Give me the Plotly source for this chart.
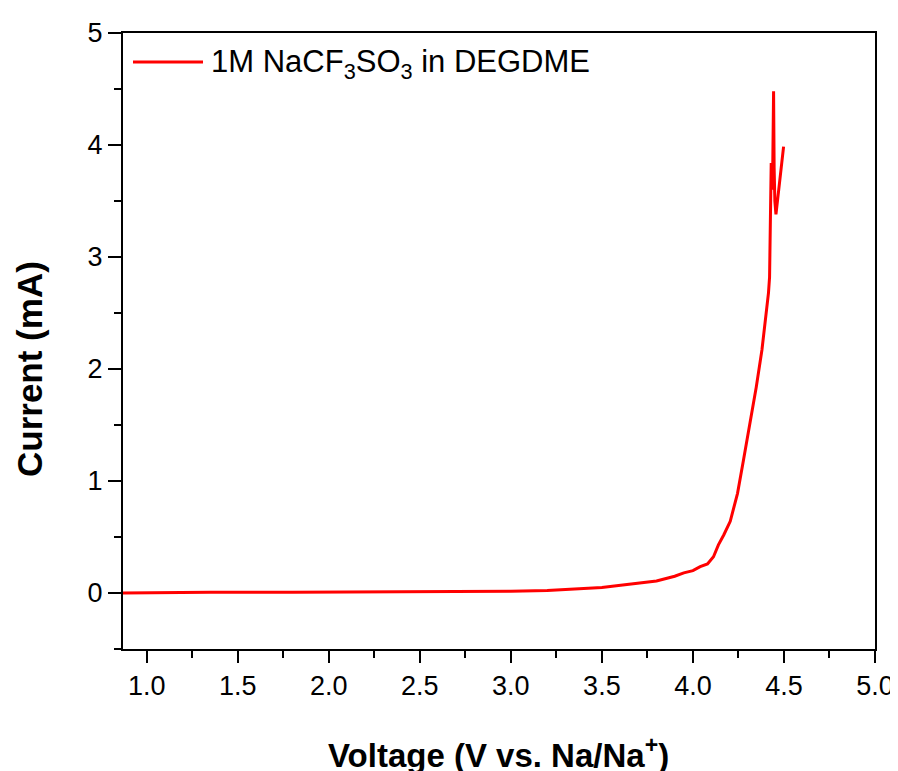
import plotly.graph_objects as go

# Data (LSV curve)
voltage = [0.87, 1.0, 1.3, 1.35, 1.8, 2.3, 2.8, 3.0, 3.2, 3.36, 3.5, 3.58, 3.7, 3.8,
           3.9, 3.95, 4.0, 4.04, 4.08, 4.113, 4.14, 4.17, 4.205, 4.245, 4.278, 4.315,
           4.348, 4.379, 4.4, 4.415, 4.421, 4.425, 4.43, 4.437, 4.44, 4.443, 4.446,
           4.45, 4.456, 4.47, 4.485, 4.498]
current = [0.0, 0.0, 0.002, 0.006, 0.007, 0.008, 0.01, 0.015, 0.022, 0.036, 0.05, 0.065,
           0.085, 0.107, 0.15, 0.18, 0.2, 0.235, 0.26, 0.324, 0.43, 0.52, 0.64, 0.89,
           1.19, 1.515, 1.84, 2.17, 2.45, 2.68, 2.82, 3.3, 3.84, 3.6, 4.1, 4.48, 3.8,
           3.5, 3.38, 3.6, 3.8, 3.985]

series_name = "1M NaCF<sub>3</sub>SO<sub>3</sub> in DEGDME"
x_tick_vals = [1.0, 1.5, 2.0, 2.5, 3.0, 3.5, 4.0, 4.5, 5.0]
x_tick_text = ["1.0", "1.5", "2.0", "2.5", "3.0", "3.5", "4.0", "4.5", "5.0"]
y_tick_vals = [0, 1, 2, 3, 4, 5]
y_tick_text = ["0", "1", "2", "3", "4", "5"]

FONT = "Liberation Sans, Arial, sans-serif"
RED = "#ff0000"

fig = go.Figure()
fig.add_trace(go.Scatter(x=voltage, y=current, mode="lines",
                         line=dict(color=RED, width=3), name=series_name,
                         showlegend=False))

# page body has an 8px margin; compensate so page coordinates match the reference
OFF = 8
W, H = 898 - OFF, 771 - OFF
L, T = 123 - OFF, 33 - OFF
R = W - (875 - OFF)
B = H - (649 - OFF)
pw, ph = W - L - R, H - T - B

def px(xp):  # page pixel -> paper
    return (xp - OFF - L) / pw

def py(yp):
    return (H - B - (yp - OFF)) / ph

fig.update_layout(
    width=W, height=H,
    margin=dict(l=L, r=R, t=T, b=B, autoexpand=False),
    paper_bgcolor="white", plot_bgcolor="white",
    font=dict(family=FONT, color="black"),
    xaxis=dict(range=[0.87, 5.0], tickvals=x_tick_vals, ticktext=x_tick_text,
               automargin=False,
               ticks="outside", ticklen=12, tickwidth=2, tickcolor="black",
               showline=True, linecolor="black", linewidth=2, mirror=True,
               showgrid=False, zeroline=False,
               tickfont=dict(size=27, family=FONT),
               minor=dict(ticks="outside", ticklen=7, tickwidth=2, tickcolor="black",
                          dtick=0.25, tick0=1.0, showgrid=False)),
    yaxis=dict(range=[-0.5, 5.0], tickvals=y_tick_vals, ticktext=y_tick_text,
               automargin=False,
               ticks="outside", ticklen=13, tickwidth=2, tickcolor="black",
               showline=True, linecolor="black", linewidth=2, mirror=True,
               showgrid=False, zeroline=False,
               tickfont=dict(size=27, family=FONT),
               minor=dict(ticks="outside", ticklen=7, tickwidth=2, tickcolor="black",
                          dtick=0.5, tick0=0, showgrid=False)),
)

# Legend sample line and text
fig.add_shape(type="line", xref="paper", yref="paper",
              x0=px(133), x1=px(203), y0=py(62), y1=py(62),
              line=dict(color=RED, width=3))
fig.add_annotation(xref="paper", yref="paper", x=px(209), y=py(64),
                   xanchor="left", yanchor="middle", showarrow=False,
                   text=series_name, font=dict(size=31, family=FONT, color="black"))

# Axis titles
fig.add_annotation(xref="paper", yref="paper", x=px(498), y=py(753),
                   xanchor="center", yanchor="middle", showarrow=False,
                   text="<b>Voltage (V vs. Na/Na<sup>+</sup>)</b>",
                   font=dict(size=33, family=FONT, color="black"))
fig.add_annotation(xref="paper", yref="paper", x=px(29), y=py(369),
                   xanchor="center", yanchor="middle", showarrow=False,
                   textangle=-90, text="<b>Current (mA)</b>",
                   font=dict(size=35, family=FONT, color="black"))

fig.write_html("out.html")
